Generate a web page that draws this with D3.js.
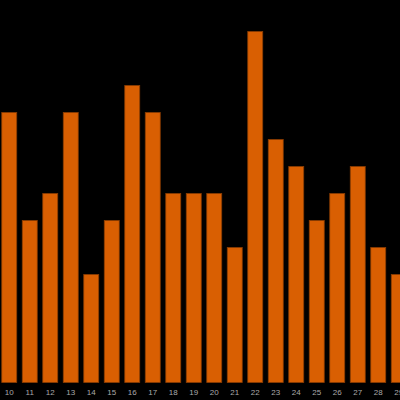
<!DOCTYPE html>
<html><head><meta charset="utf-8">
<script src="https://cdn.jsdelivr.net/npm/d3@7"></script>
<style>html,body{margin:0;padding:0;background:#000;overflow:hidden}</style>
</head><body>
<svg id="c" width="400" height="400"></svg>
<script>
const categories = ["10","11","12","13","14","15","16","17","18","19","20","21","22","23","24","25","26","27","28","29"];
const values = [10,6,7,10,4,6,11,10,7,7,7,5,13,9,8,6,7,8,5,4];

const svg = d3.select("#c");
svg.append("rect").attr("width",400).attr("height",400).attr("fill","#000");

const step = 20.5;
const x = d3.scaleBand().domain(categories)
  .range([9.25 - step/2, 9.25 - step/2 + step*categories.length])
  .paddingInner(0.27).paddingOuter(0.135);
const y = d3.scaleLinear().domain([0,14]).range([382.5, 4.5]);

svg.append("g").selectAll("rect").data(categories).join("rect")
  .attr("x", d => x(d))
  .attr("width", x.bandwidth())
  .attr("y", (d,i) => y(values[i]))
  .attr("height", (d,i) => y(0) - y(values[i]))
  .attr("fill", "#d95f02")
  .attr("stroke", "#8a3c02")
  .attr("stroke-width", 0.8);

const ax = svg.append("g").attr("transform", `translate(0,${y(0)})`)
  .call(d3.axisBottom(x).tickSize(0).tickPadding(7));
ax.select(".domain").remove();
ax.selectAll("text").attr("fill","#aaa").attr("font-size","8px").attr("font-family","Arial, 'Liberation Sans', sans-serif");
</script>
</body></html>
